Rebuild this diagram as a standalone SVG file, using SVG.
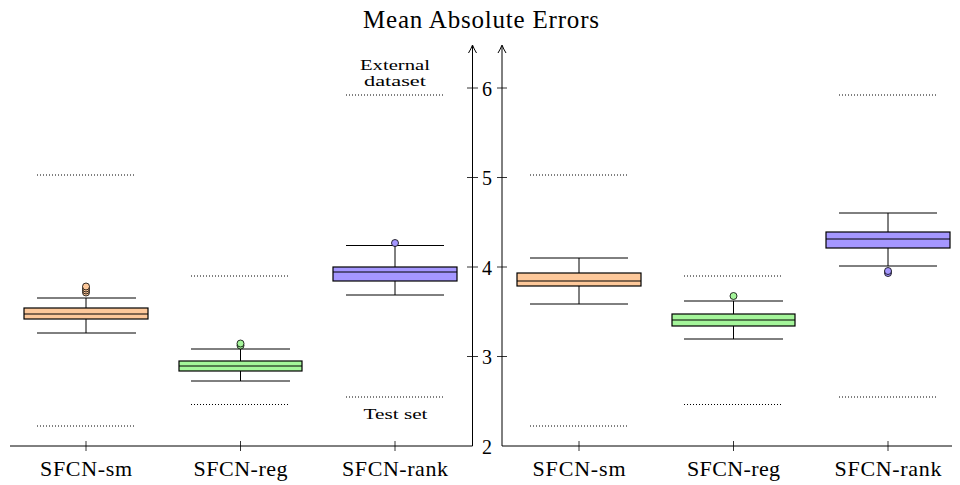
<svg xmlns="http://www.w3.org/2000/svg" width="960" height="485" viewBox="0 0 960 485">
<style>
text{font-family:"Liberation Serif","Times New Roman",serif;fill:#000}
.ax{stroke:#000;stroke-width:1;fill:none}
.tk{stroke:#000;stroke-width:0.8}
.dot{stroke:#000;stroke-width:1;stroke-dasharray:1 2;fill:none}
.wh{stroke:#000;stroke-width:1;fill:none}
.box{stroke:#000;stroke-width:1.2}
.or{fill:#FDC89A}
.gr{fill:#A4F59A}
.pu{fill:#A597FF}
.out{stroke:#000;stroke-width:0.8}
.cat{font-size:22px;text-anchor:middle}
.num{font-size:20px;text-anchor:middle}
.note{font-size:15.5px;text-anchor:middle}
</style>
<text x="481" y="28" font-size="25" text-anchor="middle" textLength="236" lengthAdjust="spacing">Mean Absolute Errors</text>
<g id="connectors">
<path class="ax" d="M10 446H472.5V46"/>
<path class="ax" d="M468.5 53Q471 49 472.5 45Q474 49 476.5 53"/>
<path class="ax" d="M502 46V446H952"/>
<path class="ax" d="M498 53Q500.5 49 502 45Q503.5 49 506 53"/>
<g class="tk">
<path d="M467 88H478M467 177.5H478M467 267H478M467 356.5H478"/>
<path d="M497 88H507M497 177.5H507M497 267H507M497 356.5H507"/>
<path d="M86 441V451M240.5 441V451M395 441V451M579 441V451M733.5 441V451M888 441V451"/>
</g>
<text class="num" x="487" y="96">6</text>
<text class="num" x="487" y="185">5</text>
<text class="num" x="487" y="274.5">4</text>
<text class="num" x="487" y="364">3</text>
<text class="num" x="487" y="453.5">2</text>
</g>
<g id="labels">
<text class="cat" x="86" y="476" textLength="92" lengthAdjust="spacing">SFCN-sm</text>
<text class="cat" x="240.5" y="476" textLength="94" lengthAdjust="spacing">SFCN-reg</text>
<text class="cat" x="395" y="476" textLength="106" lengthAdjust="spacing">SFCN-rank</text>
<text class="cat" x="579" y="476" textLength="93" lengthAdjust="spacing">SFCN-sm</text>
<text class="cat" x="733.5" y="476" textLength="93" lengthAdjust="spacing">SFCN-reg</text>
<text class="cat" x="888" y="476" textLength="107" lengthAdjust="spacing">SFCN-rank</text>
<text class="note" x="395" y="70" textLength="70" lengthAdjust="spacingAndGlyphs">External</text>
<text class="note" x="395" y="86" textLength="62" lengthAdjust="spacingAndGlyphs">dataset</text>
<text class="note" x="395.5" y="419" textLength="64" lengthAdjust="spacingAndGlyphs">Test set</text>
</g>
<g id="ref-lines">
<path class="dot" d="M37 175H136M37 426H136M191 276H290M191 404.5H290M346 95H444M346 397H444"/>
<path class="dot" d="M530 175H628M530 426H628M684 276H783M684 404.5H783M839 95H937M839 397H937"/>
</g>
<g id="left-sfcn-sm">
<path class="wh" d="M37 298H136M37 333H136M86 298V308M86 319V333"/>
<rect class="box or" x="24" y="308" width="124" height="11"/>
<path class="wh" d="M24 314H148"/>
<g class="out or"><circle cx="86" cy="292.5" r="3.5"/><circle cx="86" cy="290.5" r="3.5"/><circle cx="86" cy="288.5" r="3.5"/><circle cx="86" cy="286.5" r="3.5"/></g>
</g>
<g id="left-sfcn-reg">
<path class="wh" d="M191 349H290M191 381H290M240.5 349V361M240.5 371V381"/>
<rect class="box gr" x="179" y="361" width="123" height="10"/>
<path class="wh" d="M179 366H302"/>
<g class="out gr"><circle cx="240.5" cy="345.5" r="3.5"/><circle cx="240.5" cy="343.5" r="3.5"/></g>
</g>
<g id="left-sfcn-rank">
<path class="wh" d="M346 245.5H444M346 295H444M395 245.5V267M395 281V295"/>
<rect class="box pu" x="333" y="267" width="124" height="14"/>
<path class="wh" d="M333 272H457"/>
<circle class="out pu" cx="395" cy="243" r="3.5"/>
</g>
<g id="right-sfcn-sm">
<path class="wh" d="M530 258H628M530 304H628M579 258V273M579 286V304"/>
<rect class="box or" x="517" y="273" width="124" height="13"/>
<path class="wh" d="M517 281H641"/>
</g>
<g id="right-sfcn-reg">
<path class="wh" d="M684 301H783M684 339H783M733.5 301V314M733.5 326V339"/>
<rect class="box gr" x="672" y="314" width="123" height="12"/>
<path class="wh" d="M672 320H795"/>
<circle class="out gr" cx="733.5" cy="296" r="3.5"/>
</g>
<g id="right-sfcn-rank">
<path class="wh" d="M839 213H937M839 266H937M888 213V232M888 248V266"/>
<rect class="box pu" x="826" y="232" width="124" height="16"/>
<path class="wh" d="M826 239H950"/>
<g class="out pu"><circle cx="888" cy="273" r="3.5"/><circle cx="888" cy="271" r="3.5"/></g>
</g>
</svg>
